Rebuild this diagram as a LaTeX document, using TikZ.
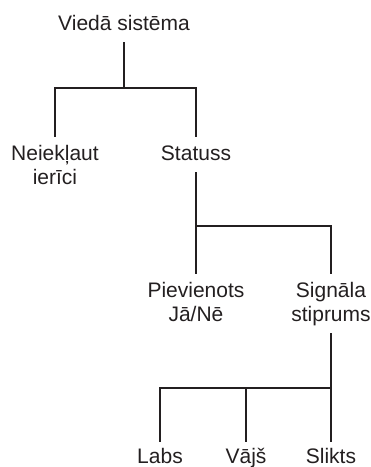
\documentclass[tikz,border=0pt]{standalone}
\usepackage{fontspec}
\setmainfont{Liberation Sans}
\definecolor{ink}{HTML}{231F20}
\begin{document}
\begin{tikzpicture}[x=1pt,y=-1pt,
  lbl/.style={anchor=base, inner xsep=0pt, inner ysep=8pt, text height=15pt, text depth=4pt,
    align=center, font=\fontsize{21}{24}\selectfont, text=ink},
  lbltwo/.style={lbl, text height=39pt},
  conn/.style={draw=ink, line width=2.2pt, line join=miter}]
\useasboundingbox (0,0) rectangle (371,467);
\node[lbl] (root) at (124,30) {Viedā sistēma};
\node[lbltwo] (neiek) at (55,184) {Neiekļaut\\ierīci};
\node[lbl] (stat) at (196,160) {Statuss};
\node[lbltwo] (piev) at (196,321) {Pievienots\\Jā/Nē};
\node[lbltwo] (sign) at (331,321) {Signāla\\stiprums};
\node[lbl, inner ysep=6pt] (labs) at (160,463) {Labs};
\node[lbl, inner ysep=6pt] (vajs) at (246,463) {Vājš};
\node[lbl, inner ysep=6pt] (slik) at (331,463) {Slikts};
\coordinate (j1) at (124,88);
\coordinate (j2) at (196,226);
\coordinate (j3) at (331,388);
\draw[conn] (root.south) -- (j1);
\draw[conn] (neiek.north) |- (j1) -| (stat.north);
\draw[conn] (stat.south) -- (j2);
\draw[conn] (piev.north) |- (j2) -| (sign.north);
\draw[conn] (sign.south) -- (j3);
\draw[conn] (labs.north) |- (j3) -- (slik.north);
\draw[conn] (vajs.north) -- (vajs.north |- j3);
\end{tikzpicture}
\end{document}
